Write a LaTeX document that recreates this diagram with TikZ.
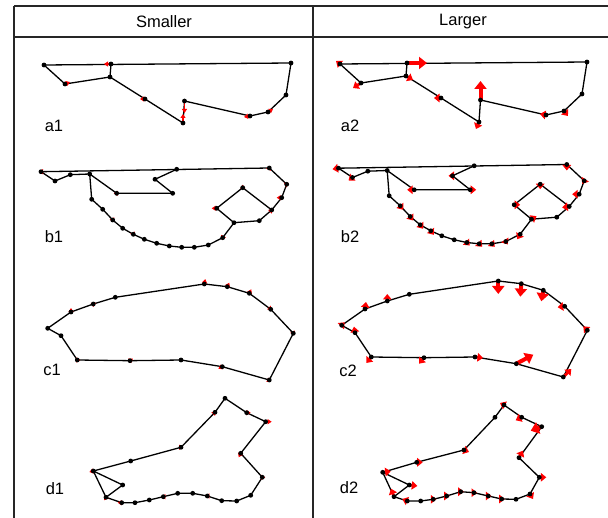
\documentclass[tikz,border=0pt]{standalone}
\usepackage{fontspec}
\setmainfont{Liberation Sans}
\usetikzlibrary{arrows.meta}
\tikzset{
 edge/.style={line width=1.3pt},
 grid/.style={line width=1.6pt, draw=black!85},
 lbl/.style={font=\fontsize{16.5}{18}\selectfont, inner sep=0pt},
 as/.style={draw=red, line width=1.6pt, -{Triangle[length=4pt, width=5pt]}},
 am/.style={draw=red, line width=2.8pt, -{Triangle[length=5.5pt, width=8.5pt]}},
 al/.style={draw=red, line width=4pt, -{Triangle[length=8pt, width=12pt]}},
}
\newcommand\putdot[1]{\fill (#1) circle (2.4pt);}
% ---------- shape a ----------
\newcommand\shapeA[1]{%
 \coordinate (#1A) at (44,65);
 \coordinate (#1B) at (65,84);
 \coordinate (#1C) at (110,77);
 \coordinate (#1D) at (111,64);
 \coordinate (#1E) at (291,63);
 \coordinate (#1F) at (286,95);
 \coordinate (#1G) at (268,112);
 \coordinate (#1H) at (250,116);
 \coordinate (#1I) at (184.5,101);
 \coordinate (#1J) at (183,123);
 \coordinate (#1K) at (145,99);
 \draw[edge] (#1A) -- (#1B) -- (#1C) -- (#1D);
 \draw[edge] (#1A) -- (#1E);
 \draw[edge] (#1C) -- (#1K) -- (#1J) -- (#1I) -- (#1H) -- (#1G) -- (#1F) -- (#1E);
}
\newcommand\dotsA[1]{\foreach \n in {A,B,C,D,E,F,G,H,I,J,K}{\putdot{#1\n}}}
% ---------- shape b ----------
\newcommand\shapeB[1]{%
 \coordinate (#1P1) at (41,171.7);
 \coordinate (#1P2) at (55,181);
 \coordinate (#1P3) at (70.3,174.7);
 \coordinate (#1P4) at (89.7,174);
 \coordinate (#1P5) at (116.7,193.3);
 \coordinate (#1P6) at (172.7,193.3);
 \coordinate (#1P7) at (155,179.3);
 \coordinate (#1P8) at (176.7,169.3);
 \coordinate (#1P9) at (269.3,168);
 \coordinate (#1P10) at (286.7,184.3);
 \coordinate (#1P11) at (281.7,197.7);
 \coordinate (#1P12) at (271.7,210);
 \coordinate (#1P13) at (259.3,220.7);
 \coordinate (#1P14) at (234,222.7);
 \coordinate (#1P15) at (216.7,208.3);
 \coordinate (#1P16) at (242.7,187.7);
 \coordinate (#1Q1) at (222.7,237.7);
 \coordinate (#1Q2) at (208.3,245);
 \coordinate (#1Q3) at (194.3,247.3);
 \coordinate (#1Q4) at (181.7,247.3);
 \coordinate (#1Q5) at (169.3,246);
 \coordinate (#1Q6) at (156.7,243.3);
 \coordinate (#1Q7) at (144.3,239.3);
 \coordinate (#1Q8) at (133.3,234.3);
 \coordinate (#1Q9) at (122.7,228.3);
 \coordinate (#1Q10) at (112.7,220);
 \coordinate (#1Q11) at (102.7,209.3);
 \coordinate (#1Q12) at (91.7,199.3);
 \draw[edge] (#1P1) -- (#1P2) -- (#1P3) -- (#1P4) -- (#1P5) -- (#1P6) -- (#1P7) -- (#1P8);
 \draw[edge] (#1P1) -- (#1P9) -- (#1P10) -- (#1P11) -- (#1P12) -- (#1P16) -- (#1P15) -- (#1P14) -- (#1P13) -- (#1P12);
 \draw[edge] (#1P14) -- (#1Q1) -- (#1Q2) -- (#1Q3) -- (#1Q4) -- (#1Q5) -- (#1Q6) -- (#1Q7) -- (#1Q8) -- (#1Q9) -- (#1Q10) -- (#1Q11) -- (#1Q12) -- (#1P4);
}
\newcommand\dotsB[1]{\foreach \n in {P1,P2,P3,P4,P5,P6,P7,P8,P9,P10,P11,P12,P13,P14,P15,P16,Q1,Q2,Q3,Q4,Q5,Q6,Q7,Q8,Q9,Q10,Q11,Q12}{\putdot{#1\n}}}
% ---------- shape c ----------
\newcommand\shapeC[1]{%
 \coordinate (#1C1) at (47.7,328.3);
 \coordinate (#1C2) at (61,335.7);
 \coordinate (#1C3) at (77.3,360);
 \coordinate (#1C4) at (130,360.7);
 \coordinate (#1C5) at (181,360);
 \coordinate (#1C6) at (222.3,366.7);
 \coordinate (#1C7) at (269.3,380);
 \coordinate (#1C8) at (293.3,333.3);
 \coordinate (#1C9) at (270.7,309.3);
 \coordinate (#1C10) at (249.3,293.3);
 \coordinate (#1C11) at (227.3,286.7);
 \coordinate (#1C12) at (204.3,284);
 \coordinate (#1C13) at (115.3,297.3);
 \coordinate (#1C14) at (93.3,304);
 \coordinate (#1C15) at (71,312);
 \draw[edge] (#1C1) -- (#1C2) -- (#1C3) -- (#1C4) -- (#1C5) -- (#1C6) -- (#1C7) -- (#1C8) -- (#1C9) -- (#1C10) -- (#1C11) -- (#1C12) -- (#1C13) -- (#1C14) -- (#1C15) -- cycle;
}
\newcommand\dotsC[1]{\foreach \n in {C1,C2,C3,C4,C5,C6,C7,C8,C9,C10,C11,C12,C13,C14,C15}{\putdot{#1\n}}}
\newcommand\edgesD[1]{%
 \draw[edge] (#1D1) -- (#1D2) -- (#1D3) -- (#1D4) -- (#1D5) -- (#1D6) -- (#1D7) -- (#1D8) -- (#1D9) -- (#1D10) -- (#1D11) -- (#1D12) -- (#1D13) -- (#1D14) -- (#1D15) -- (#1D16) -- (#1D17) -- (#1D18) -- (#1D16);
 \draw[edge] (#1D18) -- (#1D19) -- (#1D20) -- (#1D21) -- (#1D1);
}
\newcommand\dotsD[1]{\foreach \n in {D1,D2,D3,D4,D5,D6,D7,D8,D9,D10,D11,D12,D13,D14,D15,D16,D17,D18,D19,D20,D21}{\putdot{#1\n}}}
\begin{document}
\begin{tikzpicture}[x=1pt,y=-1pt]
\useasboundingbox (0,0) rectangle (608,518);
% table
\coordinate (tl) at (14,6);
\coordinate (tr) at (608,6);
\coordinate (hl) at (14,37);
\coordinate (hr) at (608,37);
\coordinate (bl) at (14,518);
\coordinate (mt) at (313,6);
\coordinate (mb) at (313,518);
\draw[grid] (tl) -- (tr);
\draw[grid] (hl) -- (hr);
\draw[grid] (tl) -- (bl);
\draw[grid] (mt) -- (mb);
\node[lbl] (hs) at (164,21.5) {Smaller};
\node[lbl] (hL) at (463,21.5) {Larger};
% labels
\node[lbl] (la1) at (54,126) {a1};
\node[lbl] (la2) at (350,126) {a2};
\node[lbl] (lb1) at (54,237) {b1};
\node[lbl] (lb2) at (350,237) {b2};
\node[lbl] (lc1) at (52,370) {c1};
\node[lbl] (lc2) at (348,371) {c2};
\node[lbl] (ld1) at (55,489) {d1};
\node[lbl] (ld2) at (349,488) {d2};
% ================= a =================
\shapeA{p}
\begin{scope}[shift={(296,-1)}]\shapeA{q}\end{scope}
\draw[as] (pD) -- ++(-7,0);
\draw[as] (pB) -- ++(5,-2);
\draw[as] (pK) -- ++(-5,0);
\draw[as] (pI) -- ++(0,12);
\draw[as] (pJ) -- ++(0,-9);
\draw[as] (pH) -- ++(-6,1);
\draw[as] (pG) -- ++(5,-3);
\draw[am] (qA) -- ++(-4,-3);
\draw[am] (qB) -- ++(-8,5);
\draw[am] (qC) -- ++(7,4);
\draw[al] (qD) -- ++(20,0);
\draw[al] (qI) -- ++(0,-19);
\draw[am] (qJ) -- ++(-3,7);
\draw[am] (qK) -- ++(-7,0);
\draw[am] (qH) -- ++(-6,-1);
\draw[am] (qG) -- ++(4,5);
\dotsA{p}\dotsA{q}
% ================= b =================
\shapeB{r}
\begin{scope}[shift={(297.5,-3.5)}]\shapeB{s}\end{scope}
\foreach \n/\dx/\dy in {P1/-2/0,P5/-3/0,P9/1/-2,P10/2/-1,P11/-5/0,P12/1/-1,P15/-5/0,P16/0/-3,Q1/-1/2,Q10/1/2,Q8/1/2}
  {\draw[as] (r\n) -- ++(\dx,\dy);}
\foreach \n/\dx/\dy in {P1/-6/1,P2/-4/3,P5/-7/0,P6/6/0,P7/-4/0,P9/0/6,P10/-2/3,P11/-7/0,P12/-7/1,P15/6/0,P16/0/5,P14/5/-3,Q1/-3/5,Q11/3/4,Q10/3/4,Q9/3/4,Q8/3/4,Q5/3/3,Q4/3/3,Q3/3/3,Q2/2/3}
  {\draw[am] (s\n) -- ++(\dx,\dy);}
\dotsB{r}\dotsB{s}
% ================= c =================
\shapeC{t}
\begin{scope}[shift={(294,-3)}]\shapeC{u}\end{scope}
\foreach \n/\dx/\dy in {C12/1/-5,C11/2/-4,C10/2/-4,C9/1/1,C8/1/2,C7/-3/2,C6/-4/2,C4/3/-2,C3/3/0,C15/0/-4,C14/0/3}
  {\draw[as] (t\n) -- ++(\dx,\dy);}
\foreach \n/\dx/\dy in {C9/-7/1,C8/-4/-4,C7/8/-8,C5/8/1,C4/-5/6,C3/-5/6,C2/-1/-6,C1/3/-3,C15/1/-7,C14/0/-7}
  {\draw[am] (u\n) -- ++(\dx,\dy);}
\foreach \n/\dx/\dy in {C12/0/13,C11/-1/13,C10/-2/11,C6/17/-9}
  {\draw[al] (u\n) -- ++(\dx,\dy);}
\dotsC{t}\dotsC{u}
% ================= d1 =================
\coordinate (vD1) at (225,398.3);
\coordinate (vD2) at (246.7,412.7);
\coordinate (vD3) at (265.7,421.7);
\coordinate (vD4) at (240.7,453.3);
\coordinate (vD5) at (262.3,477.3);
\coordinate (vD6) at (250.7,495.3);
\coordinate (vD7) at (236.7,501);
\coordinate (vD8) at (221.7,500.7);
\coordinate (vD9) at (207.3,496);
\coordinate (vD10) at (192.7,493.3);
\coordinate (vD11) at (177.7,493.3);
\coordinate (vD12) at (163.3,496.7);
\coordinate (vD13) at (149.3,500);
\coordinate (vD14) at (135,502.7);
\coordinate (vD15) at (121.7,502.7);
\coordinate (vD16) at (106,497.3);
\coordinate (vD17) at (122.7,485);
\coordinate (vD18) at (93.3,471);
\coordinate (vD19) at (130.7,461);
\coordinate (vD20) at (181,447.3);
\coordinate (vD21) at (215,412.3);
\edgesD{v}
% ================= d2 =================
\coordinate (wD1) at (504,405);
\coordinate (wD2) at (521.7,417.3);
\coordinate (wD3) at (541.7,426.7);
\coordinate (wD4) at (519,457.7);
\coordinate (wD5) at (539.3,477.3);
\coordinate (wD6) at (530,494);
\coordinate (wD7) at (516,499.3);
\coordinate (wD8) at (501.7,499);
\coordinate (wD9) at (488.3,496);
\coordinate (wD10) at (474,492.7);
\coordinate (wD11) at (460.7,491.7);
\coordinate (wD12) at (446.7,496);
\coordinate (wD13) at (433.3,499.3);
\coordinate (wD14) at (420.7,501);
\coordinate (wD15) at (407.3,501);
\coordinate (wD16) at (394,496.7);
\coordinate (wD17) at (409.3,485);
\coordinate (wD18) at (382.7,472.3);
\coordinate (wD19) at (416.7,462.3);
\coordinate (wD20) at (464,450);
\coordinate (wD21) at (495,417.3);
\edgesD{w}
\foreach \n/\dx/\dy in {D2/4/0,D3/6/0,D4/-2/4,D5/3/0,D18/-4/1,D16/-2/3,D15/-4/0,D20/2/0,D21/1/-1,D12/-2/0,D9/-2/0}
  {\draw[as] (v\n) -- ++(\dx,\dy);}
\foreach \n/\dx/\dy in {D1/-4/-2,D2/-6/3,D4/4/-7,D5/7/0,D6/3/5,D18/8/-1,D16/-3/-8,D17/8/1,D19/6/0,D20/5/2,D15/-5/-2,D13/3/0,D12/3/0,D11/3/0,D10/3/0,D9/3/0,D8/3/0}
  {\draw[am] (w\n) -- ++(\dx,\dy);}
\draw[al] (wD3) -- ++(-11,4);
\dotsD{v}\dotsD{w}
\end{tikzpicture}
\end{document}
